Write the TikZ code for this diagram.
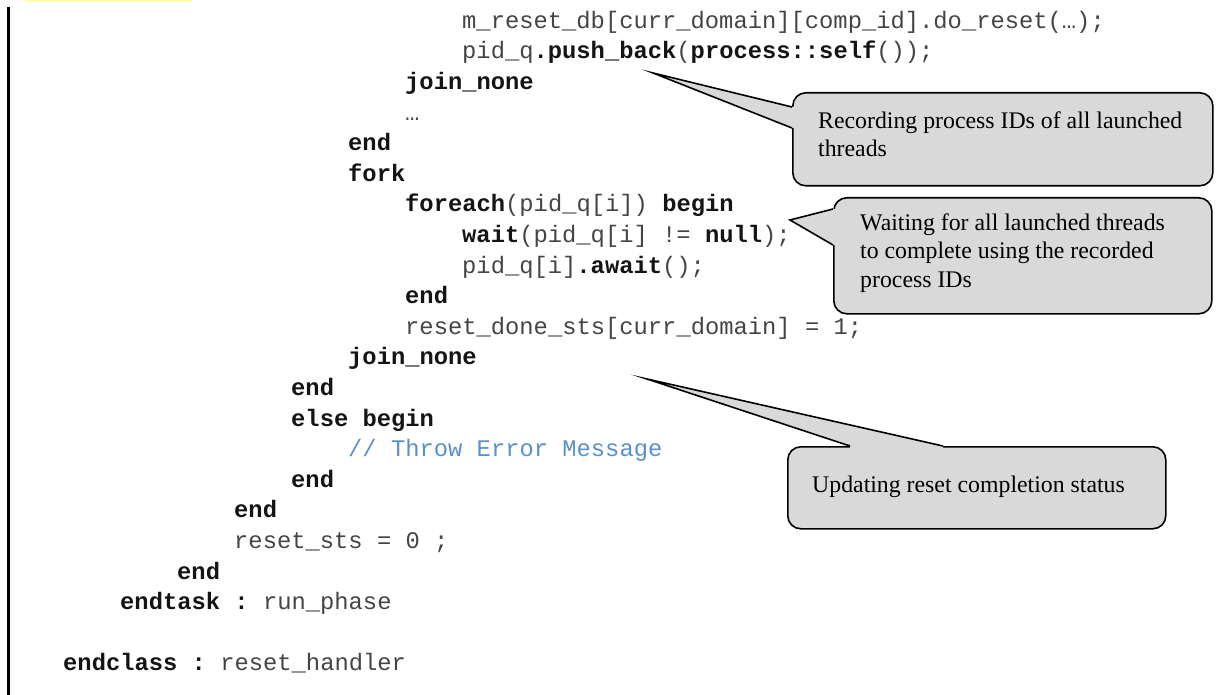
\documentclass[tikz,border=0pt]{standalone}
\usepackage{fontspec}
\setmainfont{Liberation Serif}
\setmonofont{Liberation Mono}
\usetikzlibrary{calc}
\definecolor{calloutfill}{RGB}{217,217,217}
\definecolor{commentblue}{RGB}{91,143,203}
\definecolor{codegray}{RGB}{68,68,68}
\definecolor{codebold}{RGB}{20,20,20}
\definecolor{stripyellow}{RGB}{255,255,170}
\newcommand\kw[1]{\textcolor{codebold}{\textbf{#1}}}
\begin{document}
\begin{tikzpicture}[x=1pt,y=-1pt,
  code/.style={anchor=mid west, inner sep=0pt, font=\ttfamily\fontsize{23.8}{28}\selectfont, text=codegray},
  ctext/.style={anchor=mid west, inner sep=0pt, font=\fontsize{23.8}{28.5}\selectfont, text=black},
  callbox/.style={draw=black, line width=1.6pt, fill=calloutfill, rounded corners=13pt, inner sep=0pt, anchor=north west},
  wedgeline/.style={draw=black, line width=1.6pt, line join=miter, miter limit=25}
]
\useasboundingbox (0,0) rectangle (1231,695);
% decorations
\fill[stripyellow] (25,0) rectangle (192,2.5);
\fill[black] (7,7) rectangle (10,695);

% code lines
\node[code] (l0)  at (462,26)    {m\_reset\_db[curr\_domain][comp\_id].do\_reset(…);};
\node[code] (l1)  at (462,56.6)  {pid\_q\kw{.push\_back}(\kw{process::self}());};
\node[code] (l2)  at (405,87.2)  {\kw{join\_none}};
\node[code] (l3)  at (405,117.8) {…};
\node[code] (l4)  at (348,148.4) {\kw{end}};
\node[code] (l5)  at (348,179)   {\kw{fork}};
\node[code] (l6)  at (405,209.6) {\kw{foreach}(pid\_q[i]) \kw{begin}};
\node[code] (l7)  at (462,240.2) {\kw{wait}(pid\_q[i] != \kw{null});};
\node[code] (l8)  at (462,270.8) {pid\_q[i]\kw{.await}();};
\node[code] (l9)  at (405,301.4) {\kw{end}};
\node[code] (l10) at (405,332)   {reset\_done\_sts[curr\_domain] = 1;};
\node[code] (l11) at (348,362.6) {\kw{join\_none}};
\node[code] (l12) at (291,393.2) {\kw{end}};
\node[code] (l13) at (291,423.8) {\kw{else begin}};
\node[code, text=commentblue] (l14) at (348,454.4) {// Throw Error Message};
\node[code] (l15) at (291,485)   {\kw{end}};
\node[code] (l16) at (234,515.6) {\kw{end}};
\node[code] (l17) at (234,546.2) {reset\_sts = 0 ;};
\node[code] (l18) at (177,576.8) {\kw{end}};
\node[code] (l19) at (120,607.4) {\kw{endtask :} run\_phase};
\node[code] (l21) at (63,668.6)  {\kw{endclass :} reset\_handler};

% callout 1
\node[callbox, minimum width=420pt, minimum height=93pt] (c1) at (792,92) {};
\coordinate (tip1) at (653,73);
\coordinate (c1j1) at ($(c1.north west)+(0,15)$);
\coordinate (c1j2) at ($(c1.north west)+(0,36)$);
\fill[calloutfill] (tip1) -- (c1j1) -- ($(c1j1)+(3,0)$) -- ($(c1j2)+(3,0)$) -- (c1j2) -- cycle;
\draw[wedgeline] (c1j1) -- (tip1) -- (c1j2);
\node[ctext] (t1a) at (818,126) {Recording process IDs of all launched};
\node[ctext] (t1b) at (818,154) {threads};

% callout 2
\node[callbox, minimum width=378pt, minimum height=116pt] (c2) at (833,197) {};
\coordinate (tip2) at (790,220);
\coordinate (c2j1) at ($(c2.north west)+(0,12)$);
\coordinate (c2j2) at ($(c2.north west)+(0,48)$);
\fill[calloutfill] (tip2) -- (c2j1) -- ($(c2j1)+(3,0)$) -- ($(c2j2)+(3,0)$) -- (c2j2) -- cycle;
\draw[wedgeline] (c2j1) -- (tip2) -- (c2j2);
\node[ctext] (t2a) at (860,228)   {Waiting for all launched threads};
\node[ctext] (t2b) at (860,256.5) {to complete using the recorded};
\node[ctext] (t2c) at (860,285)   {process IDs};

% callout 3
\node[callbox, minimum width=378pt, minimum height=82pt] (c3) at (787,446) {};
\coordinate (tip3) at (647,379);
\coordinate (c3j1) at ($(c3.north west)+(63,0)$);
\coordinate (c3j2) at ($(c3.north west)+(156,0)$);
\fill[calloutfill] (tip3) -- (c3j1) -- ($(c3j1)+(0,3)$) -- ($(c3j2)+(0,3)$) -- (c3j2) -- cycle;
\draw[wedgeline] (c3j1) -- (tip3) -- (c3j2);
\node[ctext] (t3a) at (812,490) {Updating reset completion status};
\end{tikzpicture}
\end{document}
